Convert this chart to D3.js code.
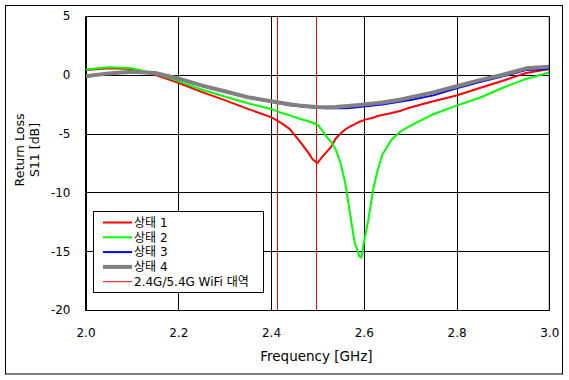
<!DOCTYPE html>
<html><head><meta charset="utf-8">
<script src="https://cdn.jsdelivr.net/npm/d3@7"></script>
<style>body{margin:0;background:#fff}svg{display:block}</style>
</head><body>
<svg id="c" width="569" height="380"></svg>
<script>
const freq = [2.00,2.05,2.10,2.15,2.20,2.25,2.30,2.35,2.40,2.42,2.44,2.46,2.48,2.49,2.50,2.51,2.52,2.53,2.54,2.55,2.56,2.57,2.58,2.59,2.595,2.60,2.61,2.62,2.63,2.64,2.66,2.68,2.70,2.75,2.80,2.85,2.90,2.95,3.00];
const state1 = [0.4,0.55,0.5,0.0,-0.68,-1.45,-2.15,-2.9,-3.6,-4.05,-4.6,-5.55,-6.6,-7.2,-7.5,-7.0,-6.55,-6.1,-5.4,-5.0,-4.65,-4.4,-4.22,-4.0,-3.95,-3.85,-3.75,-3.65,-3.5,-3.42,-3.25,-3.05,-2.78,-2.25,-1.76,-1.12,-0.5,0.15,0.5];
const state2 = [0.45,0.65,0.55,0.1,-0.54,-1.25,-1.85,-2.42,-2.9,-3.2,-3.45,-3.72,-3.95,-4.08,-4.25,-4.7,-5.3,-5.7,-6.4,-7.5,-9.2,-11.7,-14.2,-15.4,-15.55,-14.3,-12.3,-9.8,-8.1,-6.8,-5.5,-4.8,-4.35,-3.35,-2.62,-1.95,-1.1,-0.35,0.2];
const state3 = [-0.15,0.1,0.22,0.12,-0.35,-0.95,-1.45,-1.95,-2.3,-2.45,-2.58,-2.68,-2.75,-2.78,-2.8,-2.82,-2.84,-2.85,-2.85,-2.85,-2.84,-2.82,-2.78,-2.74,-2.72,-2.7,-2.66,-2.62,-2.57,-2.52,-2.4,-2.28,-2.15,-1.75,-1.15,-0.62,-0.12,0.4,0.5];
const state4 = [-0.12,0.12,0.25,0.15,-0.31,-0.9,-1.4,-1.9,-2.25,-2.38,-2.5,-2.6,-2.68,-2.71,-2.74,-2.76,-2.76,-2.75,-2.73,-2.7,-2.67,-2.64,-2.6,-2.56,-2.54,-2.52,-2.48,-2.44,-2.4,-2.35,-2.23,-2.1,-1.92,-1.5,-0.97,-0.45,0.0,0.55,0.68];
const bandLines = [2.412, 2.497];
const xTicks = [2.0,2.2,2.4,2.6,2.8,3.0];
const yTicks = [5,0,-5,-10,-15,-20];
const seriesNames = ["상태 1","상태 2","상태 3","상태 4"];
const bandName = "2.4G/5.4G WiFi 대역";

const svg = d3.select("#c");
const L=85.5, R=549.3, T=16, B=310;
const x = d3.scaleLinear().domain([2.0,3.0]).range([L,R]);
const y = d3.scaleLinear().domain([-20,5]).range([B,T]);
const FONT = "DejaVu Sans, sans-serif";

svg.append("rect").attr("x",5.5).attr("y",5.5).attr("width",557).attr("height",368.5)
  .attr("fill","none").attr("stroke","#000").attr("stroke-width",1);

const g = svg.append("g");
g.selectAll(".vx").data(xTicks).join("line")
  .attr("x1",d=>Math.round(x(d))+0.5).attr("x2",d=>Math.round(x(d))+0.5)
  .attr("y1",T).attr("y2",B).attr("stroke","#000").attr("stroke-width",1);
g.selectAll(".hy").data(yTicks).join("line")
  .attr("y1",d=>Math.round(y(d))+0.5).attr("y2",d=>Math.round(y(d))+0.5)
  .attr("x1",L).attr("x2",R).attr("stroke","#000").attr("stroke-width",1);

const xAxis = svg.append("g").attr("transform",`translate(0,${B})`)
  .call(d3.axisBottom(x).tickValues(xTicks).tickFormat(d=>d.toFixed(1)).tickSize(0).tickPadding(18));
xAxis.select(".domain").remove();
xAxis.selectAll("text").attr("font-family",FONT).attr("font-size",12).attr("fill","#000");
const yAxis = svg.append("g").attr("transform",`translate(${L},0)`)
  .call(d3.axisLeft(y).tickValues(yTicks).tickFormat(d=>String(d)).tickSize(0).tickPadding(15));
yAxis.select(".domain").remove();
yAxis.selectAll("text").attr("font-family",FONT).attr("font-size",12).attr("fill","#000");

svg.selectAll(".band").data(bandLines).join("line")
  .attr("x1",d=>Math.round(x(d))+0.5).attr("x2",d=>Math.round(x(d))+0.5)
  .attr("y1",T).attr("y2",B).attr("stroke","#ff0000").attr("stroke-width",1);

const series = [
  {vals:state1,color:"#ff0000",w:2},
  {vals:state2,color:"#00ff00",w:2},
  {vals:state3,color:"#0000ff",w:2},
  {vals:state4,color:"#808080",w:4}
];
const line = d3.line().x(d=>x(d[0])).y(d=>y(d[1]));
series.forEach(s=>{
  svg.append("path").attr("d",line(freq.map((f,i)=>[f,s.vals[i]])))
    .attr("fill","none").attr("stroke",s.color).attr("stroke-width",s.w).attr("stroke-linejoin","round");
});

svg.append("rect").attr("x",L).attr("y",T+0.5).attr("width",R-L).attr("height",B-T)
  .attr("fill","none").attr("stroke","#000").attr("stroke-width",1);

svg.append("text").attr("x",(L+R)/2-1).attr("y",361).attr("text-anchor","middle")
  .attr("font-family",FONT).attr("font-size",13.5).attr("fill","#000").text("Frequency [GHz]");
const yt = svg.append("text").attr("transform","translate(24,150) rotate(-90)").attr("text-anchor","middle")
  .attr("font-family",FONT).attr("font-size",12.5).attr("fill","#000");
yt.append("tspan").attr("x",0).attr("y",0).text("Return Loss");
yt.append("tspan").attr("x",0).attr("y",15).text("S11 [dB]");

const lg = svg.append("g");
lg.append("rect").attr("x",93.5).attr("y",211.5).attr("width",170).attr("height",81)
  .attr("fill","#fff").attr("stroke","#000").attr("stroke-width",1);
const legItems = seriesNames.map((n,i)=>({name:n,color:series[i].color,w:series[i].w}))
  .concat([{name:bandName,color:"#ff0000",w:1}]);
legItems.forEach((d,i)=>{
  const yy = 222.5 + i*14.8;
  lg.append("line").attr("x1",103).attr("x2",132).attr("y1",yy).attr("y2",yy)
    .attr("stroke",d.color).attr("stroke-width",d.w);
  lg.append("text").attr("x",134).attr("y",yy).attr("dy","0.36em")
    .attr("font-family","DejaVu Sans, 'Noto Sans CJK KR', sans-serif").attr("font-size",12).attr("fill","#000").text(d.name);
});
</script>
</body></html>
